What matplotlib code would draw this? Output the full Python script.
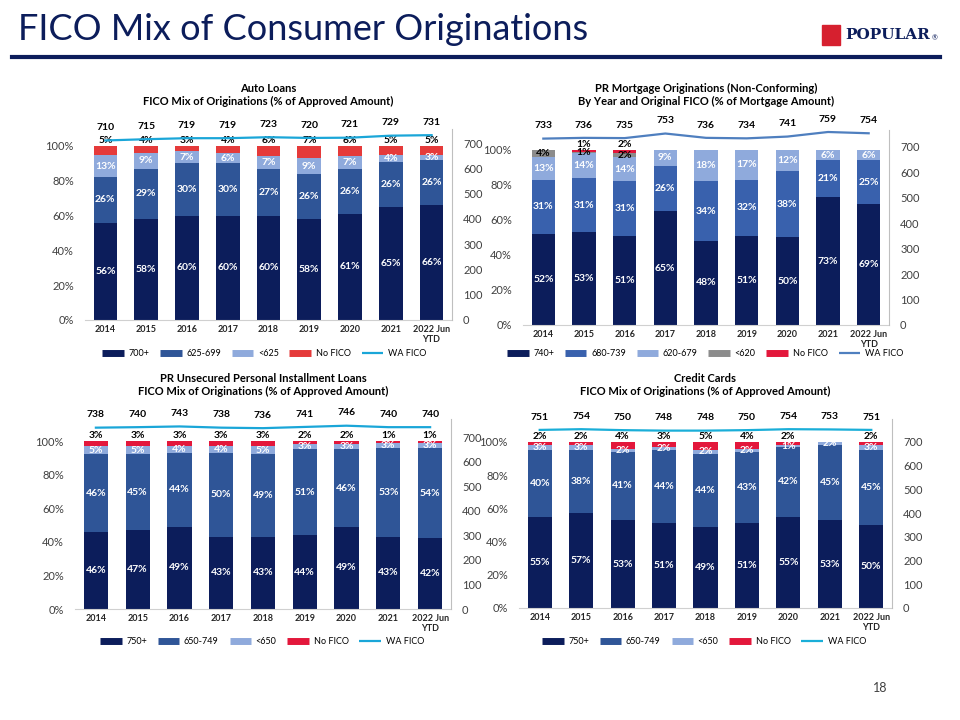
import numpy as np
import matplotlib
matplotlib.use("Agg")
import matplotlib.pyplot as plt
from matplotlib.lines import Line2D
from matplotlib.patches import Rectangle

plt.rcParams['font.family'] = ['Lato', 'DejaVu Sans']

years = ['2014', '2015', '2016', '2017', '2018', '2019', '2020', '2021', '2022 Jun\nYTD']

# Auto loans
auto_700 = [56, 58, 60, 60, 60, 58, 61, 65, 66]
auto_625 = [26, 29, 30, 30, 27, 26, 26, 26, 26]
auto_lt625 = [13, 9, 7, 6, 7, 9, 7, 4, 3]
auto_nofico = [5, 4, 3, 4, 6, 7, 6, 5, 5]
auto_wa = [710, 715, 719, 719, 723, 720, 721, 729, 731]

# PR mortgage (non-conforming)
mort_740 = [52, 53, 51, 65, 48, 51, 50, 73, 69]
mort_680 = [31, 31, 31, 26, 34, 32, 38, 21, 25]
mort_620 = [13, 14, 14, 9, 18, 17, 12, 6, 6]
mort_lt620 = [4, 1, 2, 0, 0, 0, 0, 0, 0]
mort_nofico = [0, 1, 2, 0, 0, 0, 0, 0, 0]
mort_wa = [733, 736, 735, 753, 736, 734, 741, 759, 754]

# PR unsecured personal installment loans
pers_750 = [46, 47, 49, 43, 43, 44, 49, 43, 42]
pers_650 = [46, 45, 44, 50, 49, 51, 46, 53, 54]
pers_lt650 = [5, 5, 4, 4, 5, 3, 3, 3, 3]
pers_nofico = [3, 3, 3, 3, 3, 2, 2, 1, 1]
pers_wa = [738, 740, 743, 738, 736, 741, 746, 740, 740]

# Credit cards
cc_750 = [55, 57, 53, 51, 49, 51, 55, 53, 50]
cc_650 = [40, 38, 41, 44, 44, 43, 42, 45, 45]
cc_lt650 = [3, 3, 2, 2, 2, 2, 1, 2, 3]
cc_nofico = [2, 2, 4, 3, 5, 4, 2, 0, 2]
cc_wa = [751, 754, 750, 748, 748, 750, 754, 753, 751]

NAVY = '#0c1d5b'
W, H = 960, 720
fig = plt.figure(figsize=(W / 100, H / 100), dpi=100)
fig.patch.set_facecolor('white')


def panel(box, titles, series, names, colors, txtcols, wa, wa_color, leg_pos):
    l, r, top, base, y100, y700 = box
    ax = fig.add_axes([l / W, 1 - base / H, (r - l) / W, (base - top) / H])
    x = np.arange(len(years))
    ax.set_xlim(-0.5, 8.5)
    ax.set_ylim(0, 100 * (base - top) / (base - y100))
    bottom = np.zeros(len(years))
    handles = []
    for vals, name, c, tc in zip(series, names, colors, txtcols):
        vals = np.array(vals, dtype=float)
        ax.bar(x, vals, 0.58, bottom=bottom, color=c, zorder=2)
        for i, v in enumerate(vals):
            if v <= 0:
                continue
            if name == 'No FICO':
                ax.text(i, 100.6, f'{int(v)}%', ha='center', va='bottom',
                        fontsize=7.5, fontweight='bold', color='black', zorder=5)
            else:
                ax.text(i, bottom[i] + v / 2, f'{int(v)}%', ha='center', va='center',
                        fontsize=7.5, fontweight='bold', color=tc, zorder=5)
        bottom += vals
        handles.append(Line2D([], [], color=c, lw=5, solid_capstyle='butt'))
    ax.set_yticks([0, 20, 40, 60, 80, 100])
    ax.set_yticklabels([f'{t}%' for t in [0, 20, 40, 60, 80, 100]])
    ax.set_xticks(x)
    ax.set_xticklabels(years, fontsize=6.5, fontweight='bold', color='#262626')
    ax.tick_params(axis='both', length=0)
    ax.tick_params(axis='y', labelsize=8, colors='#404040', pad=8)
    for s in ['top', 'left', 'right']:
        ax.spines[s].set_visible(False)
    ax.spines['bottom'].set_color('#d0d0d0')

    ax2 = ax.twinx()
    ax2.set_ylim(0, 700 * (base - top) / (base - y700))
    ax2.plot(x, wa, color=wa_color, lw=1.6, zorder=3)
    for i, v in enumerate(wa):
        ax2.annotate(str(v), (i, v), xytext=(0, 6), textcoords='offset points',
                     ha='center', va='bottom', fontsize=7.5, fontweight='bold', color='black')
    ax2.set_yticks(range(0, 800, 100))
    ax2.tick_params(axis='y', length=0, labelsize=8, colors='#404040', pad=8)
    for s in ['top', 'left', 'bottom']:
        ax2.spines[s].set_visible(False)
    ax2.spines['right'].set_color('#bfbfbf')
    ax2.spines['right'].set_bounds(0, 700 * (base - top) / (base - y700) * 0.93)

    handles.append(Line2D([], [], color=wa_color, lw=1.6, solid_capstyle='butt'))
    fig.legend(handles, names + ['WA FICO'], loc='center', ncol=len(handles),
               bbox_to_anchor=(leg_pos[0] / W, 1 - leg_pos[1] / H), frameon=False,
               fontsize=6.5, handlelength=2.4, columnspacing=1.2, handletextpad=0.5)

    cx = (l + r) / 2 / W
    fig.text(cx, 1 - (top - 27) / H, titles[0], ha='center', va='center',
             fontsize=8, fontweight='bold', color='black')
    fig.text(cx, 1 - (top - 14) / H, titles[1], ha='center', va='center',
             fontsize=8, fontweight='bold', color='black')


RED1 = '#e53a3a'
RED2 = '#e3173b'
MID = '#2f5597'
LIGHT = '#8faadc'

panel((85, 452, 115, 320, 146, 143),
      ['Auto Loans', 'FICO Mix of Originations (% of Approved Amount)'],
      [auto_700, auto_625, auto_lt625, auto_nofico],
      ['700+', '625-699', '<625', 'No FICO'],
      [NAVY, MID, LIGHT, RED1], ['white', 'white', 'white', 'black'],
      auto_wa, '#1aa6d8', (264, 354))

panel((523, 889, 115, 325, 150, 147),
      ['PR Mortgage Originations (Non-Conforming)',
       'By Year and Original FICO (% of Mortgage Amount)'],
      [mort_740, mort_680, mort_620, mort_lt620, mort_nofico],
      ['740+', '680-739', '620-679', '<620', 'No FICO'],
      [NAVY, '#3961ad', LIGHT, '#8c8c8c', RED2], ['white', 'white', 'white', 'black', 'black'],
      mort_wa, '#4f7fbf', (705, 354))

panel((75, 451, 405, 609, 441, 437),
      ['PR Unsecured Personal Installment Loans',
       'FICO Mix of Originations (% of Approved Amount)'],
      [pers_750, pers_650, pers_lt650, pers_nofico],
      ['750+', '650-749', '<650', 'No FICO'],
      [NAVY, MID, LIGHT, RED2], ['white', 'white', 'white', 'black'],
      pers_wa, '#1aa6d8', (262, 642))

panel((519, 892, 405, 608, 442, 442),
      ['Credit Cards', 'FICO Mix of Originations (% of Approved Amount)'],
      [cc_750, cc_650, cc_lt650, cc_nofico],
      ['750+', '650-749', '<650', 'No FICO'],
      [NAVY, MID, LIGHT, RED2], ['white', 'white', 'white', 'black'],
      cc_wa, '#1aaed8', (704, 642))

# page header
fig.text(18 / W, 1 - 30 / H, 'FICO Mix of Consumer Originations', ha='left', va='center',
         fontsize=26, color=NAVY)
fig.add_artist(Line2D([12 / W, 940 / W], [1 - 57 / H, 1 - 57 / H], color=NAVY, lw=3))
fig.add_artist(Rectangle((822 / W, 1 - 45 / H), 18 / W, 20 / H, color='#d6202f',
                         transform=fig.transFigure))
fig.text(845 / W, 1 - 35 / H, 'POPULAR', ha='left', va='center', fontsize=11,
         fontweight='bold', family='DejaVu Serif', color=NAVY)
fig.text(932 / W, 1 - 38 / H, '®', ha='left', va='center', fontsize=5, color=NAVY)
fig.text(880 / W, 1 - 688 / H, '18', ha='center', va='center', fontsize=9, color='#404040')

fig.savefig('out.png', dpi=100)
